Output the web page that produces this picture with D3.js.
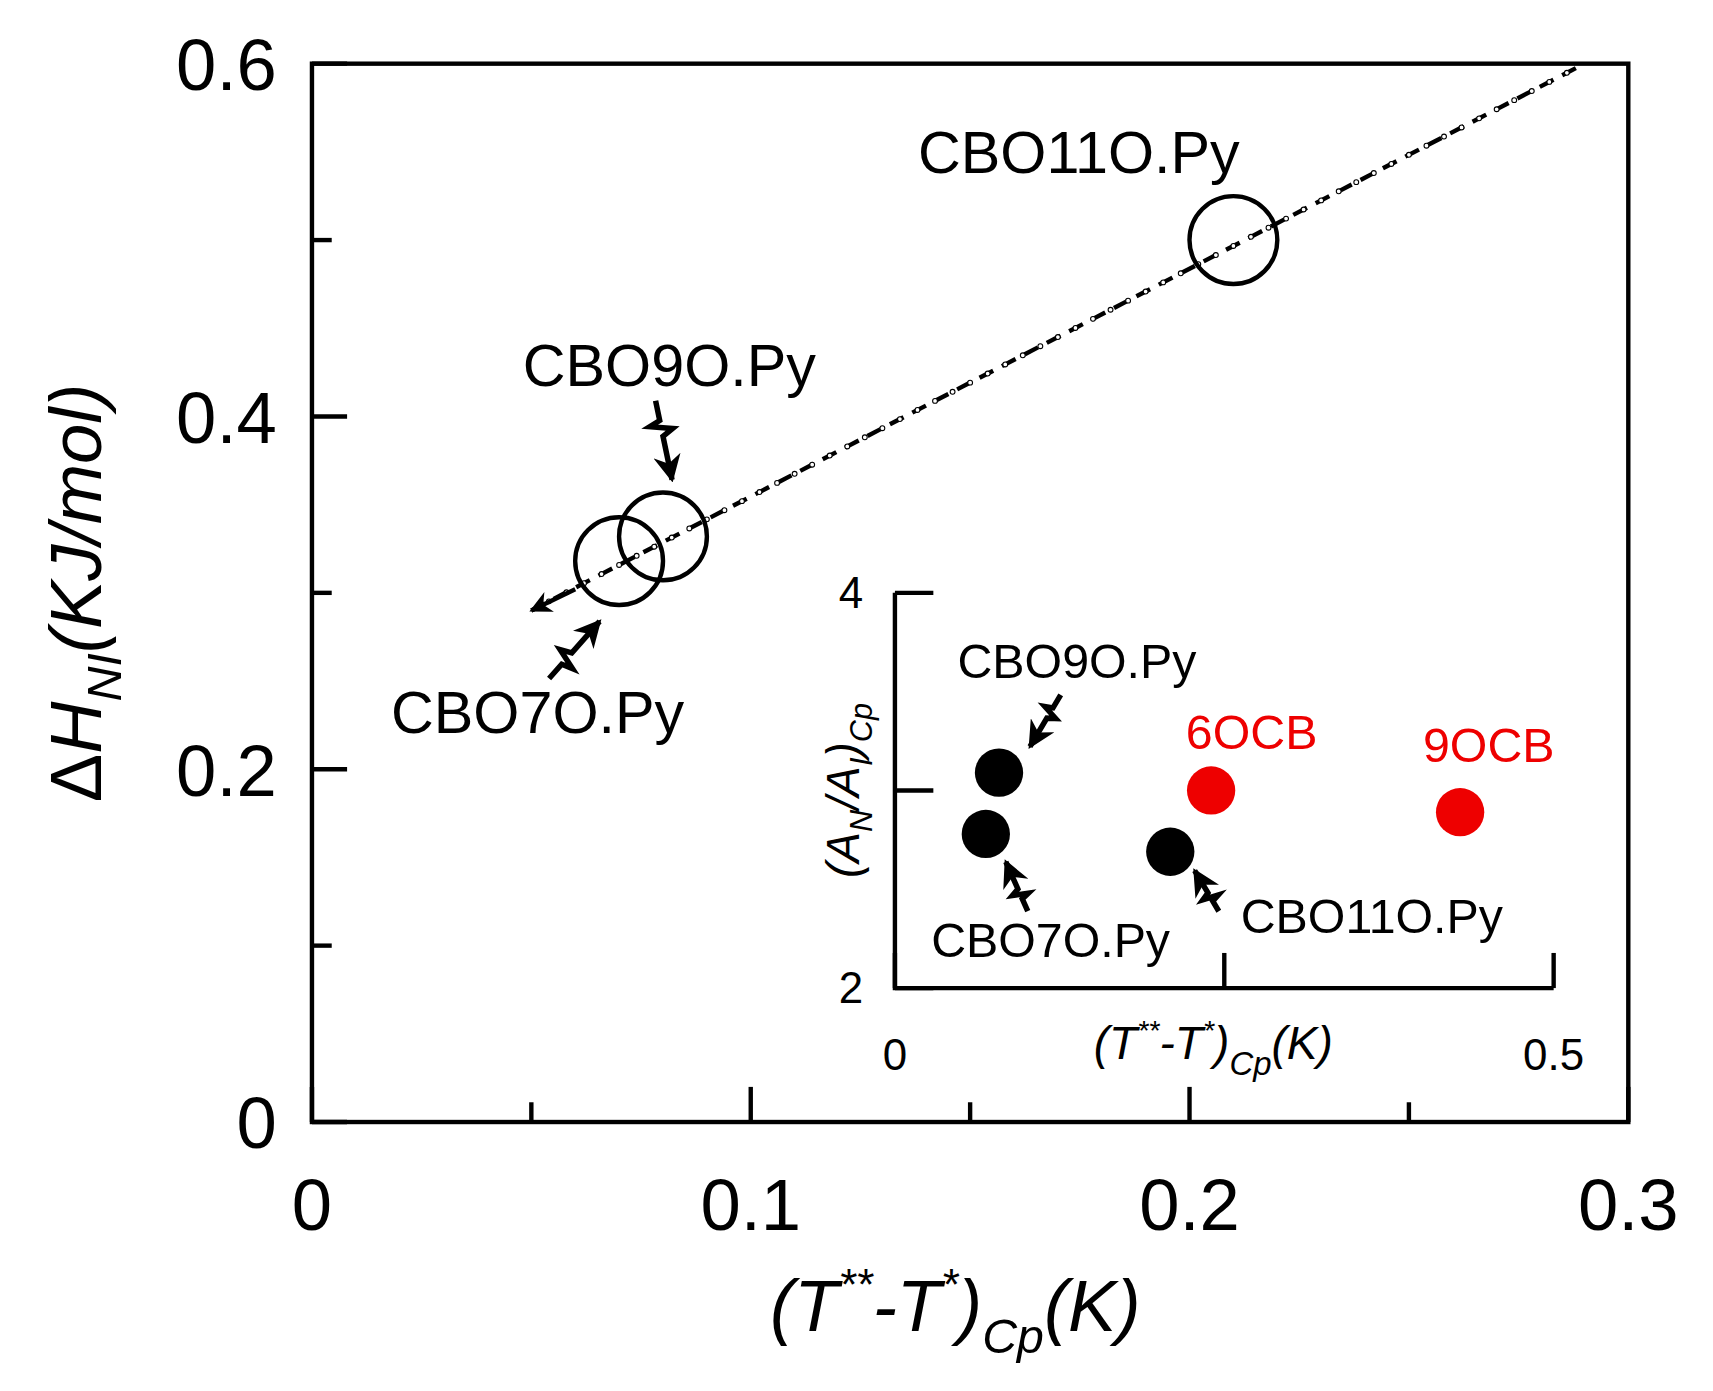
<!DOCTYPE html><html><head><meta charset="utf-8"><script src="https://cdn.jsdelivr.net/npm/d3@7"></script>
<style>body{margin:0;background:#fff}text{font-family:"Liberation Sans",Arial,sans-serif}</style></head><body>
<script>
const mainNames=["CBO7O.Py","CBO9O.Py","CBO11O.Py"];
const mainX=[0.07,0.08,0.21];
const mainY=[0.318,0.332,0.50];
const fitLine=[[0.05,0.29],[0.29,0.6]];
const mainXTicks=[0,0.05,0.1,0.15,0.2,0.25,0.3];
const mainXLabels=[0,0.1,0.2,0.3];
const mainYTicks=[0,0.1,0.2,0.3,0.4,0.5,0.6];
const mainYLabels=[0,0.2,0.4,0.6];
const inNames=["CBO9O.Py","CBO7O.Py","CBO11O.Py","6OCB","9OCB"];
const inX=[0.079,0.069,0.209,0.24,0.429];
const inY=[3.09,2.78,2.69,3.0,2.89];
const inColor=["#000","#000","#000","#e00","#e00"];
const inXTicks=[0,0.25,0.5];
const inYTicks=[2,3,4];

const svg=d3.select("body").append("svg").attr("width",1713).attr("height",1391).attr("viewBox","0 0 1560 1267");
const defs=svg.append("defs");
defs.append("marker").attr("id","ah").attr("viewBox","0 0 10 10").attr("refX",9).attr("refY",5)
 .attr("markerWidth",5).attr("markerHeight",5).attr("orient","auto").attr("markerUnits","strokeWidth")
 .append("path").attr("d","M0,0 L10,5 L0,10 L3,5 Z").attr("fill","#000");

const x=d3.scaleLinear().domain([0,0.3]).range([284,1483]);
const y=d3.scaleLinear().domain([0,0.6]).range([1022,58]);
// frame
svg.append("rect").attr("x",284).attr("y",58).attr("width",1199).attr("height",964).attr("fill","none").attr("stroke","#000").attr("stroke-width",4);
const g=svg.append("g");
mainXTicks.forEach(t=>g.append("line").attr("x1",x(t)).attr("x2",x(t)).attr("y1",1022).attr("y2",1022-(mainXLabels.includes(t)?32:18)).attr("stroke","#000").attr("stroke-width",4));
mainYTicks.forEach(t=>g.append("line").attr("y1",y(t)).attr("y2",y(t)).attr("x1",284).attr("x2",284+(mainYLabels.includes(t)?32:18)).attr("stroke","#000").attr("stroke-width",4));
mainXLabels.forEach(t=>g.append("text").attr("x",x(t)).attr("y",1120).attr("text-anchor","middle").attr("font-size",66).text(t));
mainYLabels.forEach(t=>g.append("text").attr("x",252).attr("y",y(t)+24).attr("text-anchor","end").attr("font-size",66).text(t));
// labels
const xl=svg.append("text").attr("x",870).attr("y",1212).attr("text-anchor","middle").attr("font-size",66).attr("font-style","italic");
xl.append("tspan").text("(T");xl.append("tspan").attr("font-size",40).attr("dy",-28).text("**");
xl.append("tspan").attr("dy",28).text("-T");xl.append("tspan").attr("font-size",40).attr("dy",-28).text("*");
xl.append("tspan").attr("dy",28).text(")");xl.append("tspan").attr("font-size",44).attr("dy",20).text("Cp");
xl.append("tspan").attr("dy",-20).text("(K)");
const yl=svg.append("text").attr("transform","translate(92,540) rotate(-90)").attr("text-anchor","middle").attr("font-size",66).attr("font-style","italic");
yl.append("tspan").attr("font-style","normal").text("Δ");yl.append("tspan").text("H");
yl.append("tspan").attr("font-size",44).attr("dy",18).text("NI");yl.append("tspan").attr("dy",-18).text("(KJ/mol)");
// fit line
svg.append("line").attr("x1",x(fitLine[0][0])).attr("y1",y(fitLine[0][1])).attr("x2",x(fitLine[1][0])).attr("y2",y(fitLine[1][1]))
 .attr("stroke","#000").attr("stroke-width",4).attr("stroke-dasharray","14,9");
const n=60;
for(let i=1;i<n;i++){const f=i/n;svg.append("circle").attr("cx",x(fitLine[0][0]+f*(fitLine[1][0]-fitLine[0][0]))).attr("cy",y(fitLine[0][1]+f*(fitLine[1][1]-fitLine[0][1]))).attr("r",2.2).attr("fill","#fff").attr("stroke","#000").attr("stroke-width",1);}
// arrow at start
svg.append("line").attr("x1",x(0.06)).attr("y1",y(0.302)).attr("x2",x(0.05)).attr("y2",y(0.29)).attr("stroke","#000").attr("stroke-width",4).attr("marker-end","url(#ah)");
svg.selectAll(".oc").data(mainX).enter().append("circle").attr("cx",d=>x(d)).attr("cy",(d,i)=>y(mainY[i])).attr("r",40).attr("fill","none").attr("stroke","#000").attr("stroke-width",4);
const lab=(t,px,py,fs,col,anchor)=>svg.append("text").attr("x",px).attr("y",py).attr("font-size",fs).attr("fill",col||"#000").attr("text-anchor",anchor||"start").text(t);
lab(mainNames[2],836,158,54);lab(mainNames[1],476,352,54);lab(mainNames[0],356,668,54);
function zig(x0,y0,x1,y1,w){const dx=x1-x0,dy=y1-y0,L=Math.hypot(dx,dy),nx=-dy/L*w,ny=dx/L*w;
 const p=(f,s)=>[x0+dx*f+nx*s,y0+dy*f+ny*s];
 const pts=[p(0,0),p(0.25,0),p(0.3,1),p(0.38,-1),p(0.45,0),p(1,0)];
 svg.append("path").attr("d","M"+pts.map(q=>q.join(",")).join("L")).attr("fill","none").attr("stroke","#000").attr("stroke-width",5).attr("stroke-linejoin","miter").attr("marker-end","url(#ah)");}
zig(597,365,612,437,10);zig(500,618,546,566,10);
// inset
const ix=d3.scaleLinear().domain([0,0.5]).range([815,1415]);
const iy=d3.scaleLinear().domain([2,4]).range([900,540]);
svg.append("path").attr("d",`M815,540 L815,900 L1415,900`).attr("fill","none").attr("stroke","#000").attr("stroke-width",4);
inYTicks.forEach(t=>svg.append("line").attr("x1",815).attr("x2",850).attr("y1",iy(t)).attr("y2",iy(t)).attr("stroke","#000").attr("stroke-width",4));
inXTicks.forEach(t=>svg.append("line").attr("x1",ix(t)).attr("x2",ix(t)).attr("y1",900).attr("y2",868).attr("stroke","#000").attr("stroke-width",4));
[2,4].forEach(t=>lab(t,786,iy(t)+14,40,"#000","end"));
lab("0",815,975,40,"#000","middle");lab("0.5",1415,975,40,"#000","middle");
const ixl=svg.append("text").attr("x",1105).attr("y",965).attr("text-anchor","middle").attr("font-size",42).attr("font-style","italic");
ixl.append("tspan").text("(T");ixl.append("tspan").attr("font-size",26).attr("dy",-18).text("**");
ixl.append("tspan").attr("dy",18).text("-T");ixl.append("tspan").attr("font-size",26).attr("dy",-18).text("*");
ixl.append("tspan").attr("dy",18).text(")");ixl.append("tspan").attr("font-size",30).attr("dy",14).text("Cp");
ixl.append("tspan").attr("dy",-14).text("(K)");
const iyl=svg.append("text").attr("transform","translate(782,720) rotate(-90)").attr("text-anchor","middle").attr("font-size",42).attr("font-style","italic");
iyl.append("tspan").text("(A");iyl.append("tspan").attr("font-size",28).attr("dy",12).text("N");
iyl.append("tspan").attr("dy",-12).text("/A");iyl.append("tspan").attr("font-size",28).attr("dy",12).text("I");
iyl.append("tspan").attr("dy",-12).text(")");iyl.append("tspan").attr("font-size",28).attr("dy",12).text("Cp");
svg.selectAll(".fc").data(inX).enter().append("circle").attr("cx",d=>ix(d)).attr("cy",(d,i)=>iy(inY[i])).attr("r",22).attr("fill",(d,i)=>inColor[i]);
lab(inNames[0],872,618,44);lab(inNames[1],848,872,44);lab(inNames[2],1130,850,44);
lab(inNames[3],1080,682,44,"#e00");lab(inNames[4],1296,694,44,"#e00");
zig(966,633,938,680,7);zig(936,830,916,785,7);zig(1110,830,1088,793,7);
</script></body></html>
